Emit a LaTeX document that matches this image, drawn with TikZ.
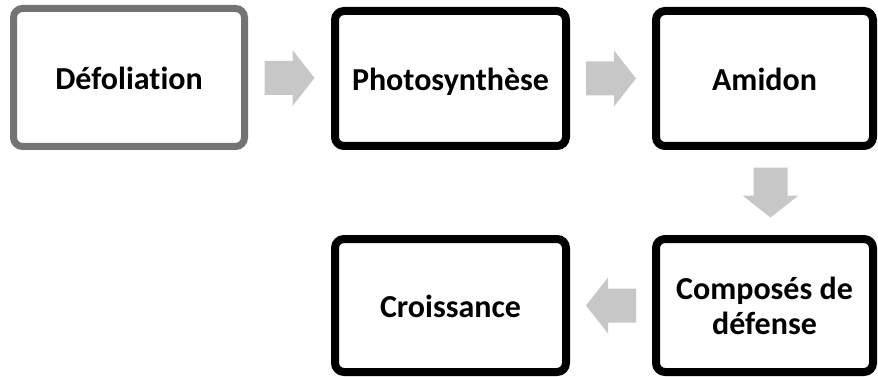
\documentclass[tikz,border=0pt]{standalone}
\usepackage{fontspec}
\setmainfont[Ligatures=NoCommon]{Carlito}
\usetikzlibrary{calc}
\tikzset{
  stagebox/.style={draw=black, line width=8pt, rounded corners=9pt,
    inner sep=0pt, align=center, font=\fontsize{32}{35}\selectfont\bfseries},
  softbox/.style={stagebox, draw=black!55, line width=7pt},
  oneline/.style={text height=24pt, text depth=0pt},
  pics/blockarrow/.style={code={
    \fill[black!22] (-25,-17) -- (3,-17) -- (3,-28) -- (25,0) -- (3,28)
      -- (3,17) -- (-25,17) -- cycle;}}
}
\begin{document}
\begin{tikzpicture}[x=1pt,y=-1pt]
  \useasboundingbox (0,0) rectangle (878,377);

  % top row
  \node[softbox, oneline, minimum width=231pt, minimum height=138pt] (defol) at (129,77.5) {Défoliation};
  \node[stagebox, oneline, minimum width=231pt, minimum height=135pt] (photo) at (450.5,78.5) {Photosynthèse};
  \node[stagebox, oneline, minimum width=217pt, minimum height=135pt] (amidon) at (764.5,78.5) {Amidon};

  % bottom row
  \node[stagebox, minimum width=217pt, minimum height=133pt] (compos) at (764.5,305.5) {Composés de\\défense};
  \node[stagebox, oneline, minimum width=231pt, minimum height=133pt] (crois) at (450.5,305.5) {Croissance};

  % block arrows between the stages
  \pic at ($(defol.east)!0.5!(photo.west)$) {blockarrow};
  \pic at ($(photo.east)!0.5!(amidon.west)$) {blockarrow};
  \pic[rotate=-90] at ($(amidon.south)!0.5!(compos.north)+(6,0)$) {blockarrow};
  \pic[rotate=180] at ($(compos.west)!0.5!(crois.east)$) {blockarrow};
\end{tikzpicture}
\end{document}
